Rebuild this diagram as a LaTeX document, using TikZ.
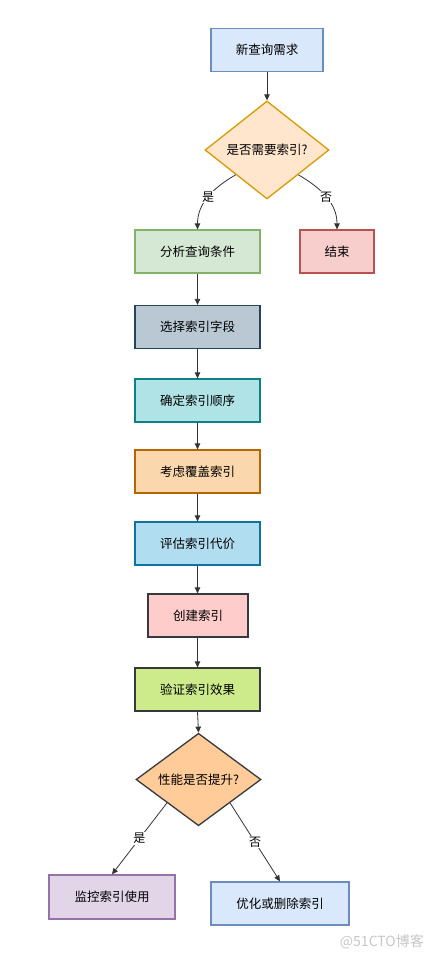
\documentclass[tikz,border=0pt]{standalone}
\usepackage{fontspec}
\setmainfont{Noto Sans CJK SC}
\usetikzlibrary{shapes.geometric,arrows.meta}
\definecolor{fBlue}{HTML}{DAE8FC}\definecolor{sBlue}{HTML}{6C8EBF}
\definecolor{fOrange}{HTML}{FFE6CC}\definecolor{sOrange}{HTML}{D79B00}
\definecolor{fGreen}{HTML}{D5E8D4}\definecolor{sGreen}{HTML}{82B366}
\definecolor{fRed}{HTML}{F8CECC}\definecolor{sRed}{HTML}{B85450}
\definecolor{fSlate}{HTML}{BAC8D3}\definecolor{sSlate}{HTML}{23445D}
\definecolor{fTeal}{HTML}{B0E3E6}\definecolor{sTeal}{HTML}{0E8088}
\definecolor{fAmber}{HTML}{FAD7AC}\definecolor{sAmber}{HTML}{B46504}
\definecolor{fSky}{HTML}{B1DDF0}\definecolor{sSky}{HTML}{10739E}
\definecolor{fPink}{HTML}{FFCCCC}\definecolor{sDark}{HTML}{36393D}
\definecolor{fLime}{HTML}{CDEB8B}
\definecolor{fPeach}{HTML}{FFCC99}
\definecolor{fPurple}{HTML}{E1D5E7}\definecolor{sPurple}{HTML}{9673A6}
\definecolor{edgeC}{HTML}{333333}
\tikzset{
  box/.style={draw, line width=1.3pt, minimum height=43pt, inner sep=0pt, font=\fontsize{12.5}{14}\selectfont, text=black},
  dia/.style={draw, shape=diamond, line width=1.3pt, inner sep=0pt, font=\fontsize{12.5}{14}\selectfont, text=black},
  conn/.style={draw=edgeC, line width=0.8pt, -{Triangle[length=6pt,width=5.5pt]}},
  lbl/.style={fill=white, inner sep=1pt, font=\fontsize{12}{14}\selectfont, text=black}
}
\begin{document}
\begin{tikzpicture}[x=1pt,y=1pt]
\useasboundingbox[fill=white] (0,0) rectangle (434,-958);
\node[box, fill=fBlue, draw=sBlue, minimum width=112pt] (n1) at (267,-50) {新查询需求};
\node[dia, fill=fOrange, draw=sOrange, minimum width=124pt, minimum height=98pt] (d1) at (267,-150) {是否需要索引?};
\node[box, fill=fGreen, draw=sGreen, minimum width=125pt] (n2) at (197.5,-251.5) {分析查询条件};
\node[box, fill=fRed, draw=sRed, minimum width=74pt] (n3) at (337,-251.5) {结束};
\node[box, fill=fSlate, draw=sSlate, minimum width=125pt] (n4) at (197.5,-327) {选择索引字段};
\node[box, fill=fTeal, draw=sTeal, minimum width=125pt] (n5) at (197.5,-400.5) {确定索引顺序};
\node[box, fill=fAmber, draw=sAmber, minimum width=125pt] (n6) at (197.5,-471.5) {考虑覆盖索引};
\node[box, fill=fSky, draw=sSky, minimum width=125pt] (n7) at (197.5,-543.5) {评估索引代价};
\node[box, fill=fPink, draw=sDark, minimum width=100pt] (n8) at (198,-615.5) {创建索引};
\node[box, fill=fLime, draw=sDark, minimum width=125pt] (n9) at (197.5,-689.5) {验证索引效果};
\node[dia, fill=fPeach, draw=sDark, minimum width=125pt, minimum height=89pt] (d2) at (198.5,-779.5) {性能是否提升?};
\node[box, fill=fPurple, draw=sPurple, minimum width=126pt, minimum height=44pt] (n10) at (112,-897) {监控索引使用};
\node[box, fill=fBlue, draw=sBlue, minimum width=138pt] (n11) at (280,-903.5) {优化或删除索引};
\node[anchor=east, text=black!22, font=\fontsize{14}{16}\selectfont, inner sep=0pt] (wm) at (424,-942) {@51CTO博客};
\draw[conn] (n1) -- (d1.north);
\draw[conn] (d1.south west) to[out=210,in=90] node[lbl] {是} (n2.north);
\draw[conn] (d1.south east) to[out=-30,in=90] node[lbl] {否} (n3.north);
\draw[conn] (n2) -- (n4);
\draw[conn] (n4) -- (n5);
\draw[conn] (n5) -- (n6);
\draw[conn] (n6) -- (n7);
\draw[conn] (n7.south) -- (n8.north -| n7.south);
\draw[conn] (n8.south -| n9.north) -- (n9.north);
\draw[conn] (n9.south) -- (d2.north);
\draw[conn] (d2.south west) -- node[lbl] {是} (n10.north);
\draw[conn] (d2.south east) -- node[lbl] {否} (n11.north);
\end{tikzpicture}
\end{document}
